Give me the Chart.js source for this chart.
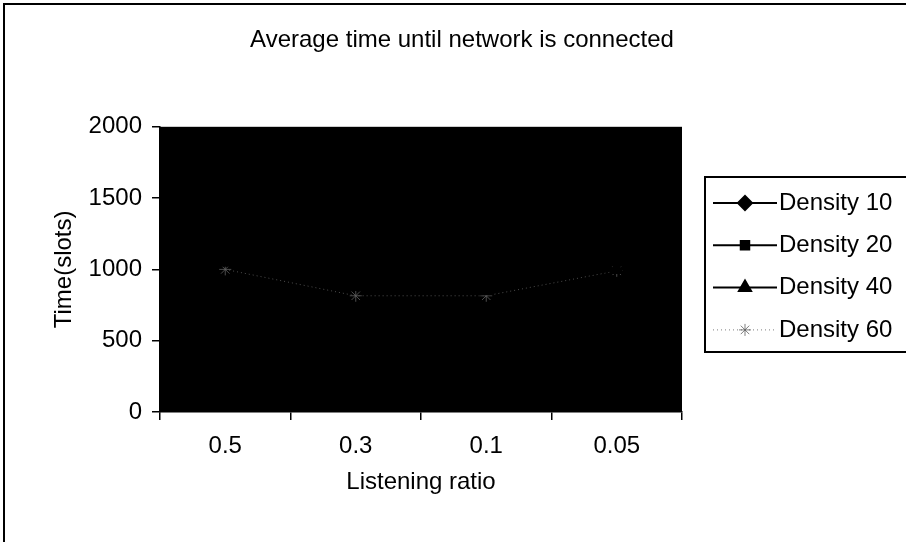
<!DOCTYPE html>
<html>
<head>
<meta charset="utf-8">
<script src="https://cdn.jsdelivr.net/npm/chart.js@4/dist/chart.umd.min.js"></script>
<style>
  html, body { margin: 0; padding: 0; background: #fff; overflow: hidden; }
</style>
</head>
<body>
<canvas id="myChart" width="906" height="542"></canvas>
<script>
var ratios = ['0.5', '0.3', '0.1', '0.05'];
// black series sit on the black plot area, values are rough guesses
var density10 = [1450, 1200, 1150, 1350];
var density20 = [1200, 1000, 950, 1100];
var density40 = [1050, 880, 850, 1000];
var density60 = [1000, 815, 815, 990];
var yTicks = [0, 500, 1000, 1500, 2000];

Chart.defaults.font.family = '"Liberation Sans", Arial, sans-serif';
Chart.defaults.font.size = 24;
Chart.defaults.color = '#000';

var graphData = {
    labels: ratios,
    datasets: [
        { label: 'Density 10', data: density10, borderColor: '#000', backgroundColor: '#000',
          borderWidth: 2, pointStyle: 'rectRot', pointRadius: 7 },
        { label: 'Density 20', data: density20, borderColor: '#000', backgroundColor: '#000',
          borderWidth: 2, pointStyle: 'rect', pointRadius: 6 },
        { label: 'Density 40', data: density40, borderColor: '#000', backgroundColor: '#000',
          borderWidth: 2, pointStyle: 'triangle', pointRadius: 7 },
        { label: 'Density 60', data: density60, borderColor: 'rgba(95,95,95,0.8)', backgroundColor: 'rgba(95,95,95,0.8)',
          borderWidth: 1, borderDash: [1, 3], pointStyle: 'star', pointRadius: 6 }
    ]
};

// white page, frame and black plot area
var backdrop = {
    id: 'backdrop',
    beforeDraw: function(chart) {
        var ctx = chart.ctx, a = chart.chartArea;
        ctx.save();
        ctx.fillStyle = '#fff';
        ctx.fillRect(0, 0, chart.width, chart.height);
        ctx.strokeStyle = '#000';
        ctx.lineWidth = 2;
        ctx.beginPath();
        ctx.moveTo(4, chart.height);
        ctx.lineTo(4, 4);
        ctx.lineTo(chart.width, 4);
        ctx.stroke();
        ctx.fillStyle = '#000';
        ctx.fillRect(a.left, a.top, a.right - a.left, a.bottom - a.top);
        ctx.restore();
    }
};

// Excel-like legend: line with marker in the middle, boxed
var lineLegend = {
    id: 'lineLegend',
    afterDraw: function(chart) {
        var ctx = chart.ctx;
        var x0 = 705, y0 = 177;
        ctx.save();
        ctx.strokeStyle = '#000';
        ctx.lineWidth = 2;
        ctx.strokeRect(x0, y0, 260, 175);
        chart.data.datasets.forEach(function(ds, i) {
            var y = 203 + i * 42.3;
            ctx.strokeStyle = ds.borderColor;
            ctx.fillStyle = ds.backgroundColor;
            ctx.lineWidth = ds.borderWidth;
            ctx.setLineDash(ds.borderDash || []);
            ctx.beginPath();
            ctx.moveTo(713, y);
            ctx.lineTo(777, y);
            ctx.stroke();
            ctx.setLineDash([]);
            Chart.helpers.drawPoint(ctx, {
                pointStyle: ds.pointStyle, radius: ds.pointRadius, rotation: 0, borderWidth: 1
            }, 745, y);
            ctx.fillStyle = '#000';
            ctx.font = '24px "Liberation Sans", Arial, sans-serif';
            ctx.textBaseline = 'middle';
            ctx.textAlign = 'left';
            ctx.fillText(ds.label, 779, y);
        });
        ctx.restore();
    }
};

var ctx = document.getElementById('myChart').getContext('2d');
var myChart = new Chart(ctx, {
    type: 'line',
    data: graphData,
    plugins: [backdrop, lineLegend],
    options: {
        responsive: false,
        animation: false,
        devicePixelRatio: 1,
        layout: { padding: { left: 18, right: 0, top: 0, bottom: 0 } },
        plugins: {
            legend: { display: false },
            tooltip: { enabled: false },
            title: {
                display: true,
                text: 'Average time until network is connected',
                font: { size: 24, weight: 'normal' },
                color: '#000',
                padding: { top: 26, bottom: 72 }
            }
        },
        scales: {
            x: {
                offset: true,
                afterFit: function(scale) { scale.height = 130; },
                grid: { drawOnChartArea: false, offset: true, tickLength: 8, color: '#000', lineWidth: 1.5 },
                border: { color: '#000', width: 1.5 },
                ticks: { padding: 12, color: '#000' },
                title: { display: true, text: 'Listening ratio', color: '#000',
                         padding: { top: 8, bottom: 45 } }
            },
            y: {
                min: yTicks[0],
                max: yTicks[yTicks.length - 1],
                afterBuildTicks: function(scale) {
                    scale.ticks = yTicks.map(function(v) { return { value: v }; });
                },
                afterFit: function(scale) { scale.width = 142; },
                grid: { drawOnChartArea: false, tickLength: 8, color: '#000', lineWidth: 1.5 },
                border: { color: '#000', width: 1.5 },
                ticks: { padding: 10, color: '#000', callback: function(v) { return String(v); } },
                title: { display: true, text: 'Time(slots)', color: '#000',
                         padding: { top: 32, bottom: 0 } }
            },
            legendSpace: {
                type: 'linear',
                position: 'right',
                afterFit: function(scale) { scale.width = 224; },
                grid: { display: false },
                border: { display: false },
                ticks: { display: false }
            }
        }
    }
});
</script>
</body>
</html>
